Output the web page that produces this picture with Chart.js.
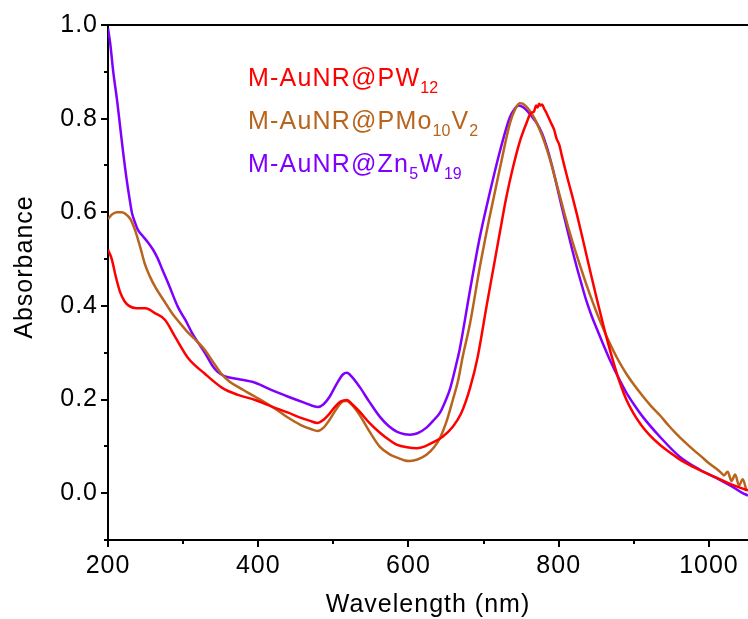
<!DOCTYPE html>
<html>
<head>
<meta charset="utf-8">
<script src="https://cdn.jsdelivr.net/npm/chart.js@4/dist/chart.umd.min.js"></script>
<style>
  html, body { margin: 0; padding: 0; background: #fff; }
  canvas { display: block; }
</style>
</head>
<body>
<canvas id="spectra" width="748" height="619"></canvas>
<script>
// M-AuNR@PW12
const wlPW12 = [200, 205, 210, 216, 222, 228, 238, 250, 262, 276, 289, 306, 329, 352, 373, 396, 418, 440, 455, 468,
  479, 487, 495, 503, 510, 518, 525, 535, 548, 562, 575, 585, 598, 611, 622, 632, 645, 659, 670, 682,
  692, 704, 713, 722, 730, 739, 748, 757, 763, 767, 770, 772, 774, 776, 778, 781, 784, 790, 794, 797,
  801, 804, 811, 818, 824, 831, 837, 844, 851, 860, 868, 875, 881, 890, 899, 910, 921, 935, 948, 963,
  979, 995, 1010, 1025, 1041, 1052];
const absPW12 = [0.52, 0.50, 0.465, 0.43, 0.41, 0.40, 0.395, 0.395, 0.385, 0.37, 0.335, 0.29, 0.255, 0.225, 0.21, 0.199, 0.185, 0.172, 0.162, 0.155,
  0.15, 0.157, 0.17, 0.186, 0.196, 0.199, 0.19, 0.174, 0.15, 0.129, 0.113, 0.103, 0.098, 0.096, 0.10, 0.108, 0.12, 0.142, 0.17, 0.225,
  0.29, 0.40, 0.48, 0.56, 0.63, 0.695, 0.75, 0.79, 0.812, 0.815, 0.828, 0.824, 0.832, 0.828, 0.83, 0.82, 0.811, 0.79, 0.776, 0.758,
  0.743, 0.722, 0.677, 0.635, 0.597, 0.55, 0.508, 0.46, 0.413, 0.355, 0.307, 0.268, 0.238, 0.20, 0.172, 0.145, 0.124, 0.103, 0.087, 0.07,
  0.056, 0.044, 0.033, 0.022, 0.012, 0.006];

// M-AuNR@PMo10V2
const wlPMo10V2 = [200, 205, 212, 218, 223, 230, 236, 243, 249, 256, 263, 275, 285, 296, 306, 318, 329, 340, 352, 362,
  373, 385, 396, 418, 440, 456, 470, 479, 487, 495, 505, 513, 518, 525, 535, 548, 562, 575, 585, 595,
  602, 612, 624, 634, 642, 650, 659, 666, 672, 682, 695, 708, 722, 735, 742, 748, 752, 761, 768, 775,
  781, 788, 794, 801, 808, 815, 822, 828, 837, 846, 857, 868, 879, 890, 900, 912, 923, 935, 946, 957,
  968, 979, 990, 1000, 1010, 1016, 1020, 1025, 1030, 1035, 1040, 1045, 1050];
const absPMo10V2 = [0.585, 0.595, 0.60, 0.60, 0.597, 0.585, 0.562, 0.525, 0.49, 0.462, 0.44, 0.41, 0.385, 0.363, 0.344, 0.325, 0.306, 0.28, 0.253, 0.238,
  0.227, 0.216, 0.206, 0.185, 0.161, 0.146, 0.137, 0.133, 0.14, 0.157, 0.182, 0.196, 0.197, 0.188, 0.167, 0.132, 0.099, 0.083, 0.076, 0.07,
  0.069, 0.072, 0.082, 0.098, 0.118, 0.15, 0.199, 0.24, 0.29, 0.363, 0.483, 0.59, 0.696, 0.79, 0.82, 0.833, 0.832, 0.818, 0.80, 0.775,
  0.75, 0.715, 0.68, 0.638, 0.595, 0.555, 0.518, 0.488, 0.445, 0.405, 0.36, 0.32, 0.285, 0.255, 0.232, 0.207, 0.186, 0.166, 0.145, 0.126,
  0.109, 0.093, 0.078, 0.064, 0.052, 0.044, 0.038, 0.046, 0.026, 0.04, 0.016, 0.03, 0.005];

// M-AuNR@Zn5W19
const wlZn5W19 = [200, 203, 207, 212, 216, 220, 225, 229, 232, 236, 240, 246, 253, 260, 266, 273, 280, 293, 303, 312,
  329, 340, 346, 355, 373, 396, 418, 440, 462, 479, 487, 495, 505, 513, 518, 525, 535, 548, 562, 574,
  585, 595, 602, 612, 624, 633, 642, 650, 655, 664, 668, 682, 695, 708, 722, 735, 741, 746, 752, 757,
  764, 771, 778, 784, 791, 797, 804, 811, 818, 824, 831, 837, 844, 851, 860, 868, 881, 890, 900, 912,
  935, 961, 988, 1014, 1030, 1045, 1052];
const absZn5W19 = [0.993, 0.96, 0.90, 0.84, 0.785, 0.73, 0.668, 0.626, 0.598, 0.578, 0.562, 0.55, 0.536, 0.52, 0.502, 0.475, 0.449, 0.398, 0.37, 0.342,
  0.30, 0.27, 0.259, 0.25, 0.244, 0.236, 0.22, 0.206, 0.193, 0.184, 0.19, 0.206, 0.235, 0.254, 0.257, 0.248, 0.227, 0.195, 0.163, 0.143,
  0.131, 0.126, 0.125, 0.128, 0.14, 0.155, 0.172, 0.20, 0.221, 0.278, 0.306, 0.434, 0.547, 0.64, 0.732, 0.803, 0.82, 0.828, 0.825, 0.818,
  0.805, 0.79, 0.768, 0.74, 0.70, 0.66, 0.612, 0.566, 0.52, 0.483, 0.443, 0.41, 0.378, 0.35, 0.315, 0.285, 0.242, 0.215, 0.19, 0.163,
  0.12, 0.078, 0.05, 0.029, 0.015, 0.0, -0.005];

const seriesColors = ['#FF0000', '#B8641C', '#7F00FF'];
const legendLabels = [
  [['M-AuNR@PW', false], ['12', true]],
  [['M-AuNR@PMo', false], ['10', true], ['V', false], ['2', true]],
  [['M-AuNR@Zn', false], ['5', true], ['W', false], ['19', true]],
];
const xTicks = [200, 400, 600, 800, 1000];
const xMinorTicks = [300, 500, 700, 900];
const yTicks = [0.0, 0.2, 0.4, 0.6, 0.8, 1.0];
const yMinorTicks = [-0.1, 0.1, 0.3, 0.5, 0.7, 0.9];

const FONT = "'Liberation Sans', Arial, sans-serif";

function toPoints(xs, ys) {
  return xs.map((x, i) => ({ x: x, y: ys[i] }));
}

// ticks, top frame line, axis titles and the legend text
const decorPlugin = {
  id: 'decor',
  beforeDraw(chart) {
    chart.ctx.letterSpacing = '1px';
  },
  afterDraw(chart) {
    const ctx = chart.ctx;
    const area = chart.chartArea;
    const xs = chart.scales.x;
    const ys = chart.scales.y;
    ctx.save();
    ctx.strokeStyle = '#000';
    ctx.lineWidth = 2;
    ctx.beginPath();
    ctx.moveTo(area.left - 1, area.top);
    ctx.lineTo(area.right, area.top);
    ctx.stroke();

    ctx.beginPath();
    xTicks.forEach(v => {
      const p = Math.round(xs.getPixelForValue(v));
      ctx.moveTo(p, area.bottom); ctx.lineTo(p, area.bottom + 7);
    });
    xMinorTicks.forEach(v => {
      const p = Math.round(xs.getPixelForValue(v));
      ctx.moveTo(p, area.bottom); ctx.lineTo(p, area.bottom + 4);
    });
    yTicks.forEach(v => {
      const p = Math.round(ys.getPixelForValue(v));
      ctx.moveTo(area.left, p); ctx.lineTo(area.left - 7, p);
    });
    yMinorTicks.forEach(v => {
      const p = Math.round(ys.getPixelForValue(v));
      ctx.moveTo(area.left, p); ctx.lineTo(area.left - 4, p);
    });
    ctx.stroke();

    ctx.letterSpacing = '1px';
    ctx.fillStyle = '#000';
    ctx.font = '25px ' + FONT;
    ctx.textAlign = 'center';
    ctx.textBaseline = 'middle';
    ctx.fillText('Wavelength (nm)', (area.left + area.right) / 2, 605);
    ctx.save();
    ctx.translate(25, 267);
    ctx.rotate(-Math.PI / 2);
    ctx.fillText('Absorbance', 0, 0);
    ctx.restore();

    ctx.textAlign = 'left';
    ctx.textBaseline = 'alphabetic';
    legendLabels.forEach((parts, i) => {
      let x = 248;
      const y = 86 + i * 43;
      ctx.fillStyle = seriesColors[i];
      parts.forEach(([txt, sub]) => {
        ctx.letterSpacing = sub ? '0px' : '1.2px';
        ctx.font = (sub ? '16px ' : '25px ') + FONT;
        ctx.fillText(txt, x, sub ? y + 7 : y);
        x += ctx.measureText(txt).width + (sub ? 1 : 0);
      });
    });
    ctx.restore();
  }
};

new Chart(document.getElementById('spectra'), {
  type: 'line',
  data: {
    datasets: [
      { label: 'M-AuNR@PW12', data: toPoints(wlPW12, absPW12), borderColor: seriesColors[0] },
      { label: 'M-AuNR@PMo10V2', data: toPoints(wlPMo10V2, absPMo10V2), borderColor: seriesColors[1] },
      { label: 'M-AuNR@Zn5W19', data: toPoints(wlZn5W19, absZn5W19), borderColor: seriesColors[2] },
    ],
  },
  options: {
    responsive: false,
    animation: false,
    layout: { padding: { top: 24, right: 0, left: 0, bottom: 0 } },
    elements: {
      point: { radius: 0 },
      line: { borderWidth: 2.5, cubicInterpolationMode: 'monotone', fill: false },
    },
    plugins: {
      legend: { display: false },
      tooltip: { enabled: false },
    },
    scales: {
      x: {
        type: 'linear',
        min: 200,
        max: 1052,
        afterBuildTicks: scale => { scale.ticks = xTicks.map(v => ({ value: v })); },
        afterFit: scale => { scale.height = 79; },
        grid: { display: false, drawTicks: false },
        border: { display: true, color: '#000', width: 2 },
        ticks: {
          color: '#000',
          padding: 11,
          maxRotation: 0,
          font: { family: FONT, size: 25 },
          callback: v => String(v),
        },
      },
      y: {
        type: 'linear',
        min: -0.1,
        max: 1.0,
        afterBuildTicks: scale => { scale.ticks = yTicks.map(v => ({ value: v })); },
        afterFit: scale => { scale.width = 108; },
        grid: { display: false, drawTicks: false },
        border: { display: true, color: '#000', width: 2 },
        ticks: {
          color: '#000',
          padding: 10,
          font: { family: FONT, size: 25 },
          callback: v => v.toFixed(1),
        },
      },
    },
  },
  plugins: [decorPlugin],
});
</script>
</body>
</html>
